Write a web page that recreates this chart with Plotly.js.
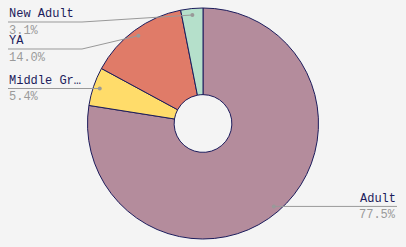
<!DOCTYPE html>
<html><head><meta charset="utf-8">
<script src="https://cdn.plot.ly/plotly-3.0.1.min.js"></script>
<style>html,body{margin:0;padding:0;background:#f4f4f4;}#c{width:406px;height:247px;}</style>
</head><body><div id="c"></div>
<script>
const categories = ["Adult", "Middle Grade", "YA", "New Adult"];
const values = [77.5, 5.4, 14.0, 3.1];
const colors = ["#b48c9c", "#ffdc6a", "#e07b68", "#b5e0cb"];

const W = 406, H = 247;
const padTop = 8, padBot = 8;
const R = (H - padTop - padBot) / 2;
const cx = W / 2, cy = padTop + R;
const px = x => x / W, py = y => 1 - y / H;

const total = values.reduce((a, b) => a + b, 0);
let cum = 0;
const pts = values.map((v, i) => {
  const mid = (cum + v / 2) / total * 2 * Math.PI; cum += v;
  const r = R * 0.944;
  return {i, x: cx + r * Math.sin(mid), y: cy - r * Math.cos(mid)};
});

const FONT = 'Liberation Mono', FS = 12;
const shapes = [], annotations = [];
const gap = 27, minY = 22;
function place(side) {
  const list = pts.filter(p => side === 'L' ? p.x < cx : p.x >= cx).sort((a, b) => a.y - b.y);
  let prev = -Infinity;
  list.forEach(p => {
    let ly = Math.max(p.y, minY, prev + gap); prev = ly;
    const ex = side === 'L' ? cx - 121 : cx + 121;
    const endX = side === 'L' ? 8 : W - 9;
    shapes.push({type: 'path', xref: 'paper', yref: 'paper',
      path: `M${px(p.x)},${py(p.y)} L${px(ex)},${py(ly)} L${px(endX)},${py(ly)}`,
      line: {color: '#999999', width: 1}});
    shapes.push({type: 'circle', xref: 'paper', yref: 'paper',
      x0: px(p.x - 2), x1: px(p.x + 2), y0: py(p.y - 2), y1: py(p.y + 2),
      fillcolor: '#999999', line: {width: 0}});
    let name = categories[p.i];
    if (name.length > 10) name = name.slice(0, 9) + '…';
    const anchor = side === 'L' ? 'left' : 'right';
    annotations.push({xref: 'paper', yref: 'paper', x: px(endX), y: py(ly - 7.6),
      text: name, showarrow: false, xanchor: anchor, yanchor: 'middle', borderpad: 0,
      font: {family: FONT, size: FS, color: '#1c1c5c'}});
    annotations.push({xref: 'paper', yref: 'paper', x: px(endX), y: py(ly + 8.8),
      text: values[p.i].toFixed(1) + '%', showarrow: false, xanchor: anchor, yanchor: 'middle', borderpad: 0,
      font: {family: FONT, size: FS, color: '#9a9a9a'}});
  });
}
place('L'); place('R');

Plotly.newPlot('c', [{
  type: 'pie', labels: categories, values: values, sort: false, direction: 'clockwise',
  hole: 0.25, textinfo: 'none', hoverinfo: 'none',
  marker: {colors: colors, line: {color: '#1c1c5c', width: 1}},
  domain: {x: [0, 1], y: [padBot / H, 1 - padTop / H]}
}], {
  width: W, height: H, margin: {l: 0, r: 0, t: 0, b: 0},
  paper_bgcolor: '#f4f4f4', plot_bgcolor: '#f4f4f4', showlegend: false,
  shapes: shapes, annotations: annotations
}, {displayModeBar: false, staticPlot: true});
</script></body></html>
